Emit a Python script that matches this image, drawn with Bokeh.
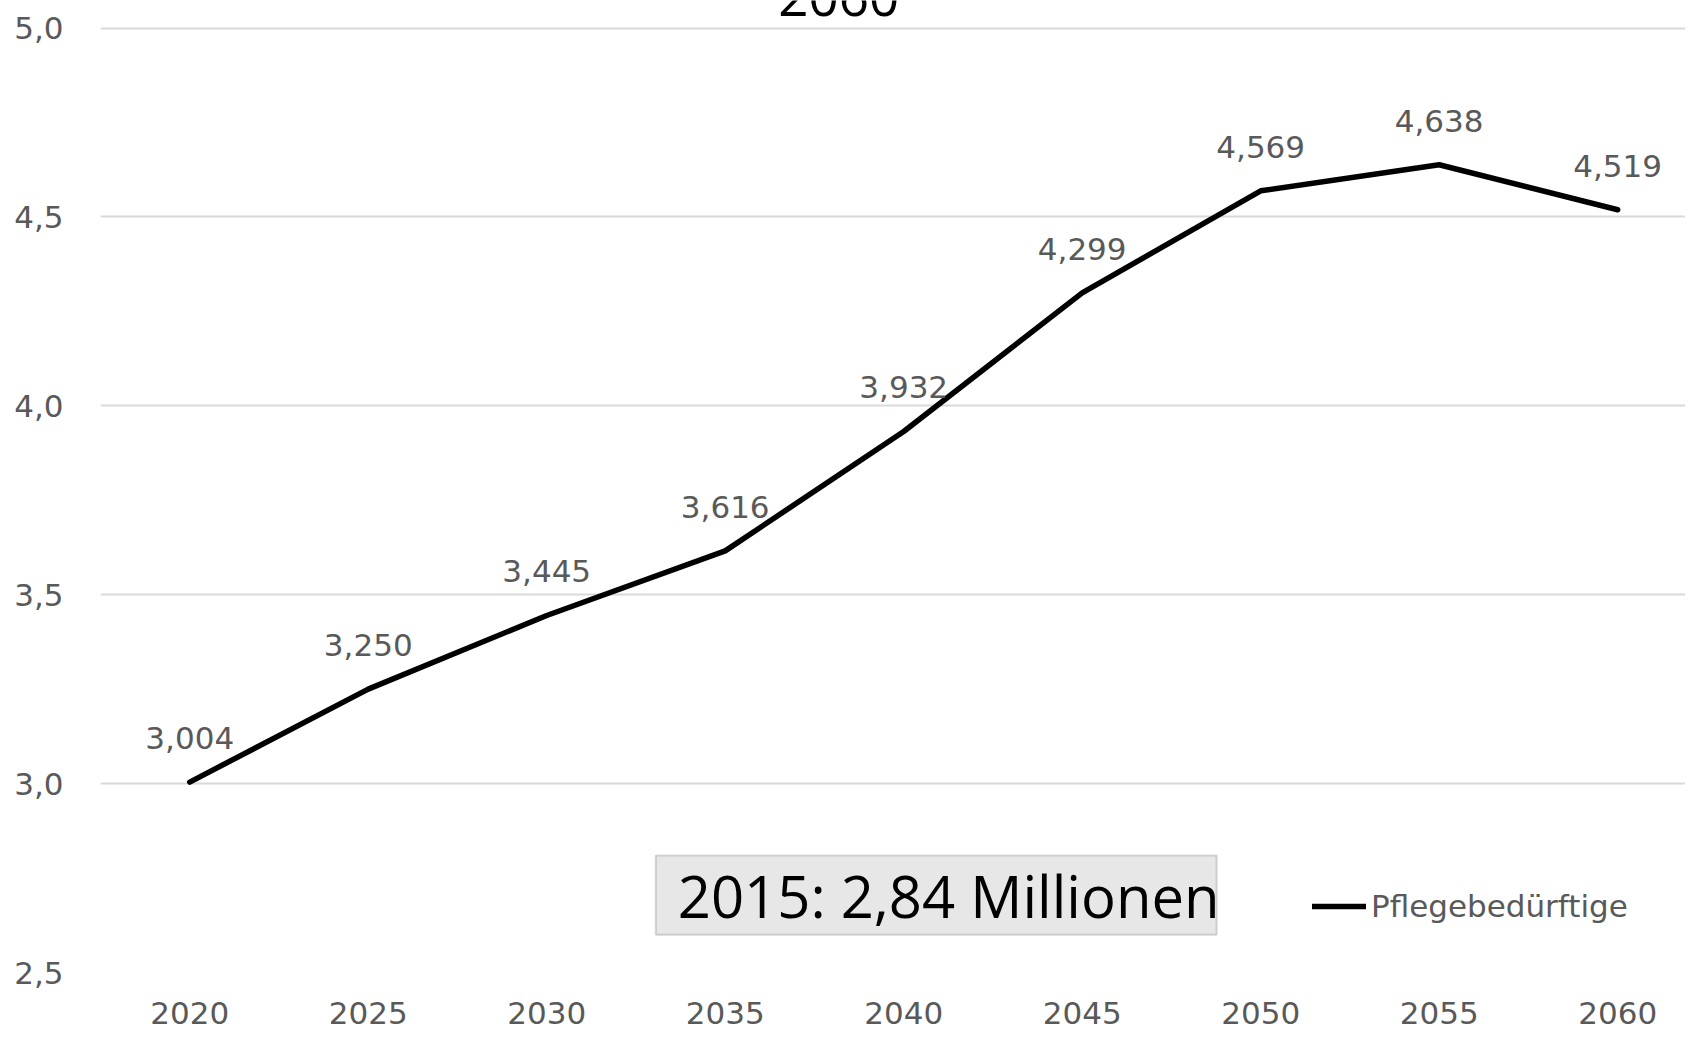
from bokeh.plotting import figure
from bokeh.models import Range1d, FixedTicker, Label, LabelSet, ColumnDataSource, Legend, LegendItem, BoxAnnotation
from bokeh.core.properties import value
from bokeh.embed import file_html
from bokeh.resources import INLINE

years = ["2020", "2025", "2030", "2035", "2040", "2045", "2050", "2055", "2060"]
values = [3.004, 3.250, 3.445, 3.616, 3.932, 4.299, 4.569, 4.638, 4.519]
value_labels = ["3,004", "3,250", "3,445", "3,616", "3,932", "4,299", "4,569", "4,638", "4,519"]
y_ticks = [2.5, 3.0, 3.5, 4.0, 4.5, 5.0]
y_tick_labels = ["2,5", "3,0", "3,5", "4,0", "4,5", "5,0"]
series_name = "Pflegebedürftige"
note_text = "2015: 2,84 Millionen"
title_text = "2060"

FONT = "DejaVu Sans"
BIG_FONT = "Open Sans"
GREY = "#595959"

xs = list(range(len(years)))
src = ColumnDataSource(dict(x=xs, y=values, lab=value_labels))

# frame reaches the top edge so the cut-off title fragment is not clipped away
p = figure(width=1685, height=1029, output_backend="svg", toolbar_location=None,
           x_range=Range1d(-0.5, 8.38), y_range=Range1d(2.5, 5.0728),
           min_border_left=100, min_border_right=0, min_border_top=0, min_border_bottom=57)
p.outline_line_color = None
p.background_fill_color = "white"
p.border_fill_color = "white"

line = p.line("x", "y", source=src, line_color="black", line_width=5.5, line_cap="round", line_join="round")

# axes
p.xaxis.ticker = FixedTicker(ticks=xs)
p.xaxis.major_label_overrides = {i: y for i, y in enumerate(years)}
p.yaxis.ticker = FixedTicker(ticks=y_ticks)
p.yaxis.major_label_overrides = {t: l for t, l in zip(y_ticks, y_tick_labels)}
for ax in (p.xaxis[0], p.yaxis[0]):
    ax.axis_line_color = None
    ax.major_tick_line_color = None
    ax.minor_tick_line_color = None
    ax.major_label_text_font = FONT
    ax.major_label_text_font_size = "31px"
    ax.major_label_text_color = GREY
p.xaxis.major_label_standoff = 23
p.yaxis.major_label_standoff = 31
p.xgrid.grid_line_color = None
p.ygrid.grid_line_color = "#d9d9d9"
p.ygrid.grid_line_width = 2

labels = LabelSet(x="x", y="y", text="lab", source=src, text_align="center", text_baseline="middle",
                  y_offset=44, text_font=value(FONT), text_font_size=value("31px"), text_color=GREY)
p.add_layout(labels)

# note box
box = BoxAnnotation(left=2.611, right=5.753, bottom=2.600, top=2.810,
                    fill_color="#e7e7e7", fill_alpha=1.0, line_color="#7f7f7f", line_width=2)
p.add_layout(box)
p.add_layout(Label(x=2.734, y=2.705, text=note_text, text_align="left", text_baseline="middle",
                   text_font=BIG_FONT, text_font_size="58px", text_color="black"))

# title fragment (cut at top edge)
p.add_layout(Label(x=3.636, y=5.0, y_offset=31, text=title_text, text_align="center",
                   text_baseline="alphabetic", text_font=BIG_FONT, text_font_size="53px", text_color="black"))

legend = Legend(items=[LegendItem(label=series_name, renderers=[line])], location=(1212, 46),
                border_line_color=None, background_fill_alpha=0, padding=0, margin=0,
                glyph_width=54, glyph_height=40, label_standoff=5,
                label_text_font=FONT, label_text_font_size="31px", label_text_color=GREY)
p.add_layout(legend)

open("out.html", "w").write(file_html(p, INLINE))
